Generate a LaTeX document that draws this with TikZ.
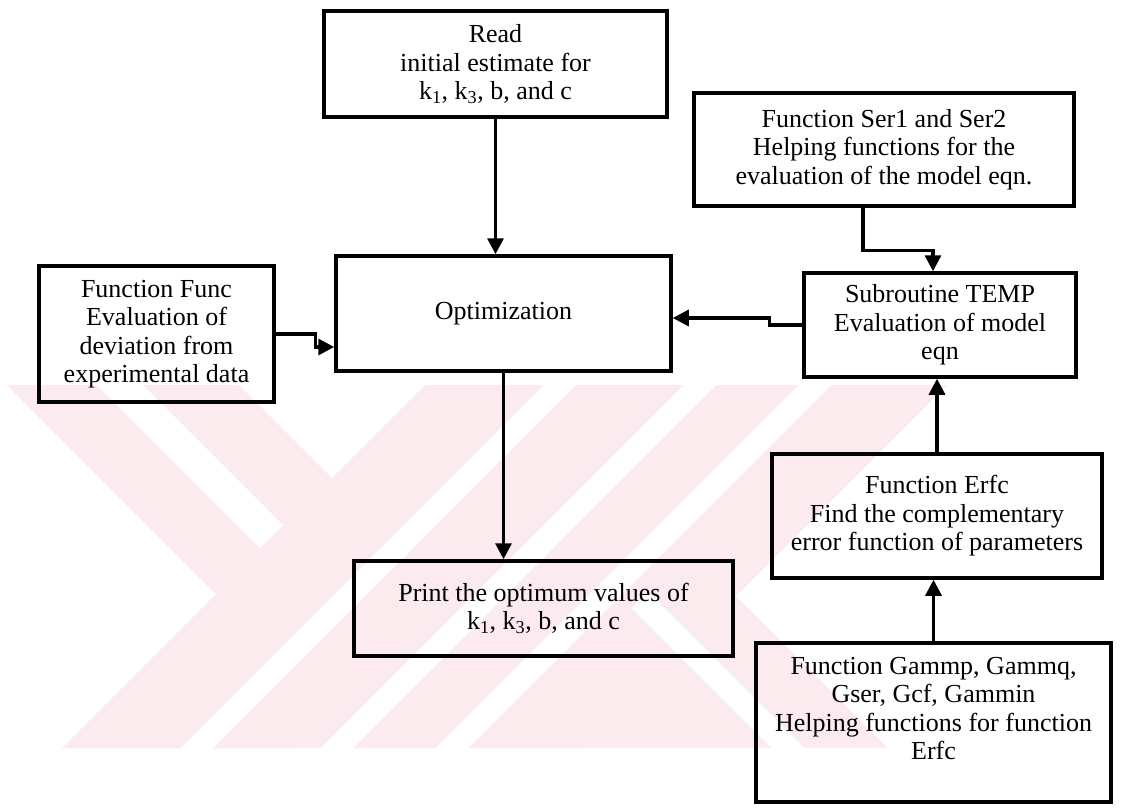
\documentclass[tikz,border=0pt]{standalone}
\usepackage{fontspec}
\setmainfont{Liberation Serif}
\usetikzlibrary{arrows.meta}
\definecolor{wm}{RGB}{252,235,238}
\tikzset{
  box/.style={draw=black, line width=3.5pt, align=center, inner sep=2pt,
    font=\fontsize{26}{28.5}\selectfont},
  arr/.style={draw=black, line width=3.2pt, -{Triangle[length=16pt,width=16pt]}},
  wstripe/.style={white, line width=23pt}
}
\newcommand{\kk}[1]{k\textsubscript{#1}}
\begin{document}
\begin{tikzpicture}[x=1pt,y=-1pt]
\useasboundingbox (0,0) rectangle (1125,807);
% faint watermark
\begin{scope}
\clip (0,385) rectangle (1125,748);
\fill[wm] (7,385) -- (239,385) -- (450,596) -- (298,748) -- (66,748) -- (218,596) -- cycle;
\fill[wm] (425,385) -- (947,385) -- (584,748) -- (62,748) -- cycle;
\fill[wm] (214,596) -- (736,596) -- (888,748) -- (366,748) -- cycle;
\fill[white] (97,385) -- (143,385) -- (283,525) -- (260,548) -- cycle;
\draw[wstripe] (580,365) -- (175,770);
\draw[wstripe] (720,365) -- (315,770);
\draw[wstripe] (835,365) -- (430,770);
\draw[wstripe] (640,600) -- (800,760);
\end{scope}
% boxes
\node[box, minimum width=343pt, minimum height=106pt] (read) at (495.5,64)
  {Read\\initial estimate for\\\kk{1}, \kk{3}, b, and c};
\node[box, minimum width=335pt, minimum height=115pt] (opt) at (503.5,313.5)
  {Optimization};
\node[box, minimum width=235pt, minimum height=136pt] (func) at (156.5,334)
  {Function Func\\Evaluation of\\deviation from\\experimental data};
\node[box, minimum width=380pt, minimum height=113pt] (ser) at (884,149.5)
  {Function Ser1 and Ser2\\Helping functions for the\\evaluation of the model eqn.};
\node[box, minimum width=272pt, minimum height=104pt] (temp) at (940,325)
  {Subroutine TEMP\\Evaluation of model\\eqn};
\node[box, minimum width=330pt, minimum height=124pt] (erfc) at (937,516)
  {Function Erfc\\Find the complementary\\error function of parameters};
\node[box, minimum width=355pt, minimum height=159pt] (gam) at (933.5,722.5)
  {Function Gammp, Gammq,\\Gser, Gcf, Gammin\\Helping functions for function\\Erfc\\\mbox{}};
\node[box, minimum width=379pt, minimum height=95pt] (print) at (543.5,608.5)
  {Print the optimum values of\\\kk{1}, \kk{3}, b, and c};
% connectors
\draw[arr] (read.south) -- (read.south |- opt.north);
\draw[arr] (opt.south) -- (opt.south |- print.north);
\draw[arr] (func.east) -- ++(40,0) |- ([yshift=-33.5pt]opt.west);
\draw[arr] (temp.west) -- ++(-33,0) |- ([yshift=-4.5pt]opt.east);
\draw[arr] ([xshift=-21pt]ser.south) -- ++(0,43) -| ([xshift=-7pt]temp.north);
\draw[arr] (erfc.north) -- (erfc.north |- temp.south);
\draw[arr] (gam.north) -- (gam.north |- erfc.south);
\end{tikzpicture}
\end{document}
